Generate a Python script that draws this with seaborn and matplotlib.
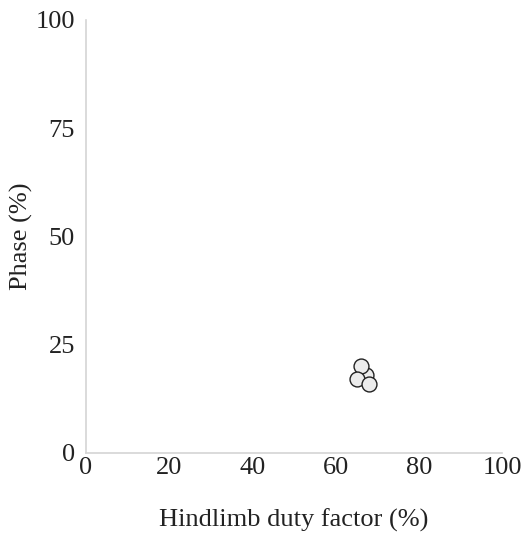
import numpy as np
import pandas as pd
import matplotlib
matplotlib.use('Agg')
import matplotlib.pyplot as plt
import seaborn as sns

# hindlimb duty factor (%) vs phase (%)
duty_factor = [67.3, 66.1, 65.1, 68.0]
phase = [18.0, 20.1, 17.1, 15.9]
x_ticks = [0, 20, 40, 60, 80, 100]
y_ticks = [0, 25, 50, 75, 100]

df = pd.DataFrame({'duty': duty_factor, 'phase': phase})

sns.set_style('white')
plt.rcParams['font.family'] = ['Liberation Serif', 'DejaVu Serif']

fig = plt.figure(figsize=(5.27, 5.36), dpi=100)
ax = fig.add_axes([0.163, 0.155, 0.79, 0.808])
sns.scatterplot(data=df, x='duty', y='phase', ax=ax, s=115,
                color='#ececec', edgecolor='#222222', linewidth=1.0, zorder=3)

ax.set_xlim(0, 100)
ax.set_ylim(0, 100)
ax.set_xticks(x_ticks)
ax.set_yticks(y_ticks)
ax.tick_params(length=0, labelsize=19, colors='#222222')
ax.tick_params(axis='x', pad=3)
ax.tick_params(axis='y', pad=8)
ax.set_xlabel('Hindlimb duty factor (%)', fontsize=19, color='#222222', labelpad=21)
ax.set_ylabel('Phase (%)', fontsize=19, color='#222222')
ax.yaxis.set_label_coords(-0.128, 0.5)
for s in ['top', 'right']:
    ax.spines[s].set_visible(False)
for s in ['left', 'bottom']:
    ax.spines[s].set_color('#d4d4d4')
    ax.spines[s].set_linewidth(1.2)
for c in ax.collections:
    c.set_clip_on(False)

fig.savefig('out.png', dpi=100)
